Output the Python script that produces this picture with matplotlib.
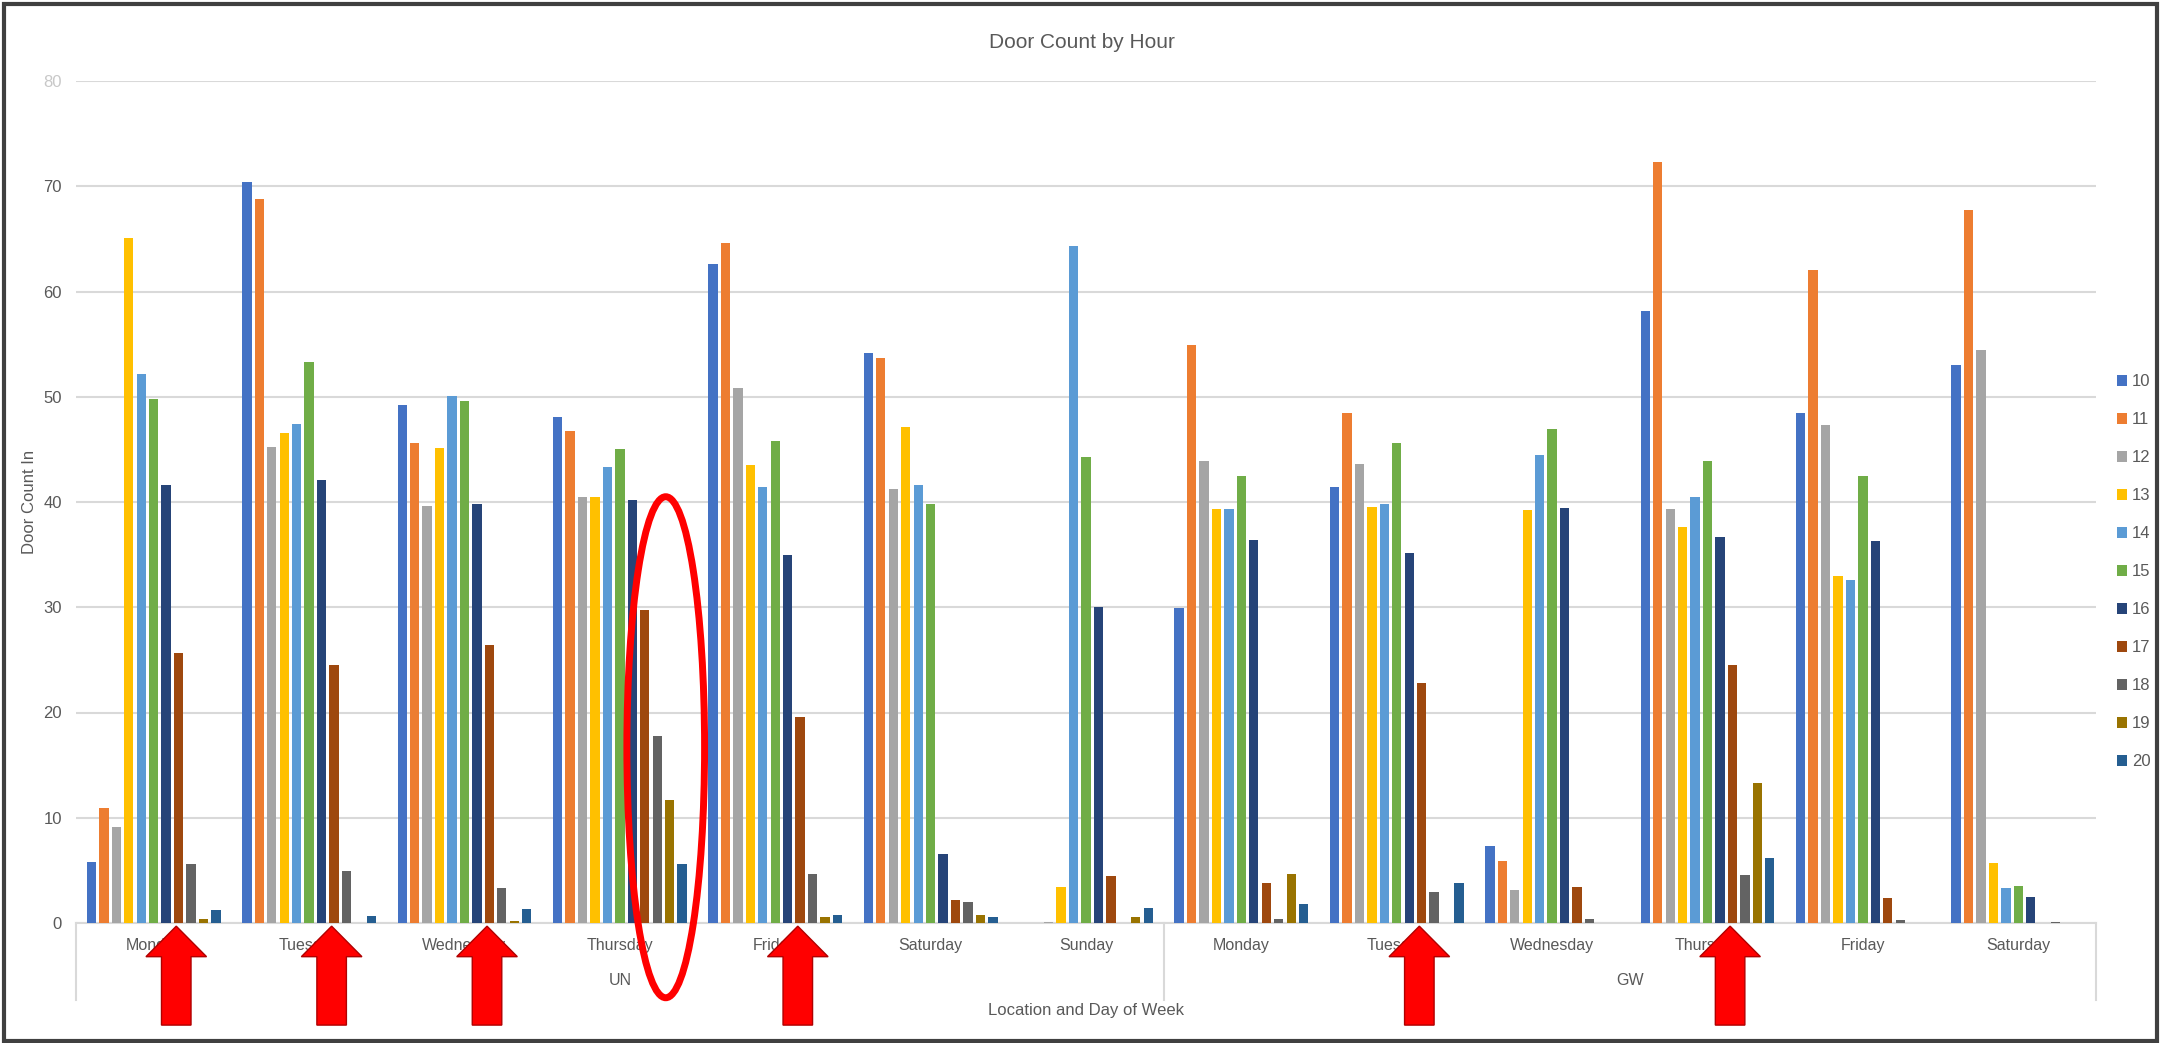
import matplotlib
matplotlib.use("Agg")
import matplotlib.pyplot as plt
import numpy as np
from matplotlib.patches import Ellipse, FancyArrow, Rectangle
from matplotlib.transforms import blended_transform_factory

plt.rcParams['font.family'] = ['Liberation Sans Narrow', 'Liberation Sans', 'DejaVu Sans']

# Location / day categories
locations = ["UN", "GW"]
un_days = ["Monday", "Tuesday", "Wednesday", "Thursday", "Friday", "Saturday", "Sunday"]
gw_days = ["Monday", "Tuesday", "Wednesday", "Thursday", "Friday", "Saturday"]
day_labels = un_days + gw_days

# Door counts per hour for each location/day
hours = ["10", "11", "12", "13", "14", "15", "16", "17", "18", "19", "20"]
h10 = [5.8, 70.4, 49.2, 48.1, 62.6, 54.2, 0.0, 29.9, 41.4, 7.3, 58.1, 48.5, 53.0]
h11 = [10.9, 68.8, 45.6, 46.7, 64.6, 53.7, 0.0, 54.9, 48.5, 5.9, 72.3, 62.0, 67.7]
h12 = [9.1, 45.2, 39.6, 40.5, 50.8, 41.2, 0.1, 43.9, 43.6, 3.1, 39.3, 47.3, 54.4]
h13 = [65.1, 46.6, 45.1, 40.5, 43.5, 47.1, 3.4, 39.3, 39.5, 39.2, 37.6, 33.0, 5.7]
h14 = [52.2, 47.4, 50.1, 43.3, 41.4, 41.6, 64.3, 39.3, 39.8, 44.5, 40.5, 32.6, 3.3]
h15 = [49.8, 53.3, 49.6, 45.0, 45.8, 39.8, 44.3, 42.5, 45.6, 46.9, 43.9, 42.5, 3.5]
h16 = [41.6, 42.1, 39.8, 40.2, 35.0, 6.6, 30.0, 36.4, 35.2, 39.4, 36.7, 36.3, 2.5]
h17 = [25.7, 24.5, 26.4, 29.7, 19.6, 2.2, 4.5, 3.8, 22.8, 3.4, 24.5, 2.4, 0.0]
h18 = [5.6, 4.9, 3.3, 17.8, 4.7, 2.0, 0.0, 0.4, 2.9, 0.4, 4.6, 0.3, 0.1]
h19 = [0.4, 0.0, 0.2, 11.7, 0.6, 0.8, 0.6, 4.7, 0.0, 0.0, 13.3, 0.0, 0.0]
h20 = [1.2, 0.7, 1.3, 5.6, 0.8, 0.6, 1.4, 1.8, 3.8, 0.0, 6.2, 0.0, 0.0]
series = [h10, h11, h12, h13, h14, h15, h16, h17, h18, h19, h20]

colors = ["#4472C4", "#ED7D31", "#A5A5A5", "#FFC000", "#5B9BD5", "#70AD47",
          "#264478", "#9E480E", "#636363", "#997300", "#255E91"]

# Groups whose 17:00 bar is flagged, and the Thursday late-hours block
flagged_groups = [0, 1, 2, 4, 8, 10]
flagged_hour = 7
circled_group = 3

W, H = 2161, 1043
fig = plt.figure(figsize=(W / 100, H / 100), dpi=100)
ax = fig.add_axes([76 / W, 1 - 923 / H, (2096 - 76) / W, (923 - 81) / H])

n_groups = len(day_labels)
x = np.arange(n_groups)
slot = 0.0801
bar_w = slot * 0.75
for i, (vals, c, lab) in enumerate(zip(series, colors, hours)):
    ax.bar(x + (i - 5) * slot, vals, width=bar_w, color=c, label=lab, zorder=3)

ax.set_xlim(-0.5, n_groups - 0.5)
ax.set_ylim(0, 80)
ax.set_yticks(range(0, 81, 10))
ax.set_yticklabels([str(v) for v in range(0, 81, 10)], fontsize=12, color="#595959")
ax.get_yticklabels()[-1].set_color("#C8C8C8")
ax.tick_params(axis="y", length=0, pad=10)
ax.grid(axis="y", color="#D9D9D9", linewidth=1.5, zorder=0)
ax.set_axisbelow(True)
for s in ["top", "right", "left"]:
    ax.spines[s].set_visible(False)
ax.spines["bottom"].set_color("#D9D9D9")
ax.spines["bottom"].set_linewidth(1.5)

ax.set_xticks(x)
ax.set_xticklabels(day_labels, fontsize=11.5, color="#595959")
ax.tick_params(axis="x", length=0, pad=11)

# Second level of the category axis
trans = blended_transform_factory(ax.transData, ax.transAxes)
loc_spans = [(-0.5, len(un_days) - 0.5), (len(un_days) - 0.5, n_groups - 0.5)]
for name, (a, b) in zip(locations, loc_spans):
    ax.text((a + b) / 2, -0.068, name, transform=trans, ha="center", va="center",
            fontsize=11.5, color="#595959")
for xb in [-0.5, len(un_days) - 0.5, n_groups - 0.5]:
    ax.plot([xb, xb], [0, -0.092], transform=trans, color="#D9D9D9",
            linewidth=1.5, clip_on=False)

ax.set_xlabel("Location and Day of Week", fontsize=12, color="#595959", labelpad=36)
ax.set_ylabel("Door Count In", fontsize=12, color="#595959")
ax.yaxis.set_label_coords(-0.0193, 0.5)

fig.text(1082 / W, 1 - 43 / H, "Door Count by Hour", ha="center", va="center",
         fontsize=15, color="#595959")

leg = fig.legend(loc="center left", bbox_to_anchor=(2112 / W, 1 - 572 / H),
                 frameon=False, fontsize=12, labelcolor="#595959",
                 handlelength=0.6, handleheight=0.6, handletextpad=0.3,
                 labelspacing=1.38, borderaxespad=0, borderpad=0.3)

# Red call-outs under the flagged 17:00 bars
for g in flagged_groups:
    xc = g + (flagged_hour - 5) * slot - 0.015
    arrow = FancyArrow(xc, -9.7, 0, 9.4, width=0.19, head_width=0.39,
                       head_length=2.9, length_includes_head=True,
                       facecolor="#FF0000", edgecolor="#B00000", linewidth=1,
                       clip_on=False, zorder=6)
    ax.add_patch(arrow)

ell_x = circled_group + (8.5 - 5) * slot + 0.015
ax.add_patch(Ellipse((ell_x, 16.7), width=0.5, height=47.6, fill=False,
                     edgecolor="#FF0000", linewidth=5, clip_on=False, zorder=6))

# Outer frame
fig.patches.append(Rectangle((0.002, 0.002), 0.996, 0.994, transform=fig.transFigure,
                             fill=False, edgecolor="#404040", linewidth=3))

fig.savefig("out.png", dpi=100, facecolor="white")
